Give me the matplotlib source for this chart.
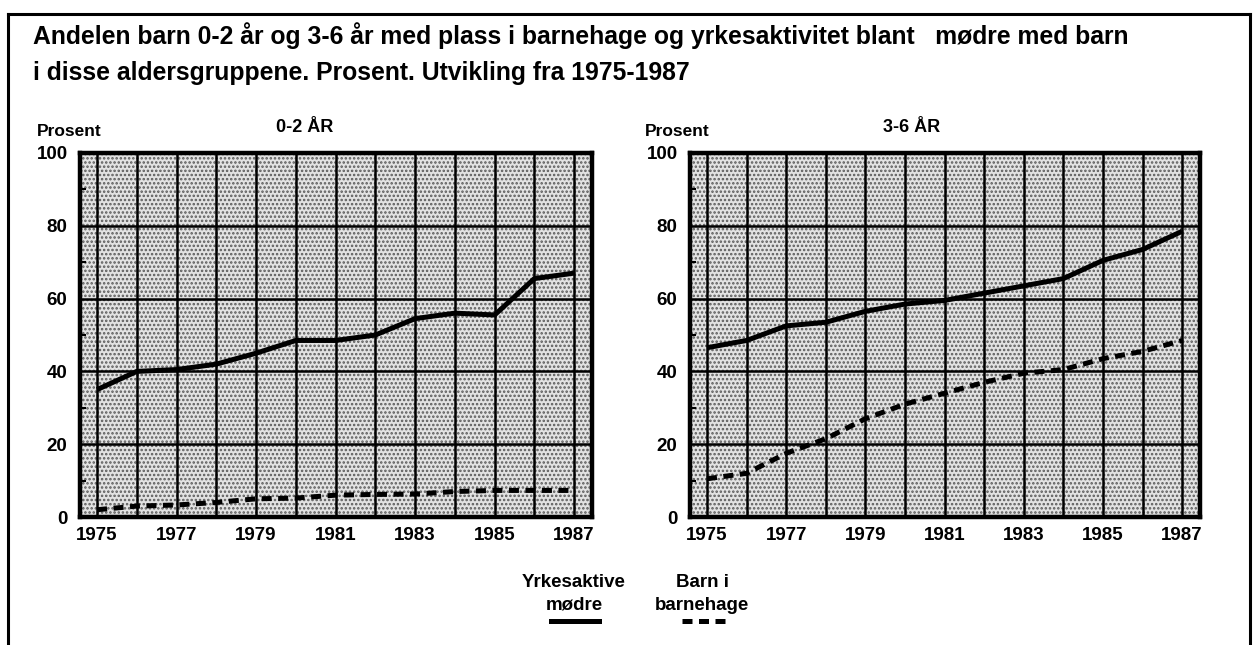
import matplotlib

matplotlib.use("Agg")
import matplotlib.pyplot as plt
from matplotlib.lines import Line2D

plt.rcParams["font.family"] = ["Liberation Sans", "DejaVu Sans"]
plt.rcParams["font.weight"] = "bold"
plt.rcParams["hatch.linewidth"] = 1.2

years = list(range(1975, 1988))
mothers_0_2 = [35, 40, 40.5, 42, 45, 48.5, 48.5, 50, 54.5, 56, 55.5, 65.5, 67]
kindergarten_0_2 = [2, 3, 3.3, 4, 5, 5.2, 6, 6.2, 6.3, 7, 7.3, 7.3, 7.3]
mothers_3_6 = [46.5, 48.5, 52.5, 53.5, 56.5, 58.5, 59.5, 61.5, 63.5, 65.5, 70.5, 73.5, 78.5]
kindergarten_3_6 = [10.5, 12, 17.5, 21.5, 27, 31, 34, 37, 39.5, 40.5, 43.5, 45.5, 48.5]
year_ticks = [1975, 1977, 1979, 1981, 1983, 1985, 1987]
pct_ticks = [0, 20, 40, 60, 80, 100]
panel_titles = ["0-2 ÅR", "3-6 ÅR"]
title_lines = ["Andelen barn 0-2 år og 3-6 år med plass i barnehage og yrkesaktivitet blant   mødre med barn",
               "i disse aldersgruppene. Prosent. Utvikling fra 1975-1987"]
legend_labels = ["Yrkesaktive\nmødre", "Barn i\nbarnehage"]

W, H = 1254, 645
fig = plt.figure(figsize=(W / 100, H / 100), dpi=100)


def fx(px):
    return px / W


def fy(py):
    return 1 - py / H


# outer frame
for xs, ys in [((8, 1250), (14, 14)), ((8, 8), (14, 645)), ((1250, 1250), (14, 645))]:
    fig.add_artist(Line2D([fx(x) for x in xs], [fy(y) for y in ys], color="black", lw=2.2))

fig.text(fx(33), fy(36), title_lines[0], ha="left", va="center", fontsize=17.8, fontweight="bold")
fig.text(fx(33), fy(73), title_lines[1], ha="left", va="center", fontsize=17.8, fontweight="bold")

panels = [
    (80, 592, mothers_0_2, kindergarten_0_2, 37, 305),
    (690, 1200, mothers_3_6, kindergarten_3_6, 645, 912),
]
for i, (x0, x1, solid, dashed, prosent_x, title_x) in enumerate(panels):
    ax = fig.add_axes([fx(x0), fy(517), fx(x1 - x0), (517 - 153) / H])
    ax.set_facecolor("white")
    ax.add_patch(plt.Rectangle((0, 0), 1, 1, transform=ax.transAxes, facecolor="#e2e2e2",
                               edgecolor="#5a5a5a", hatch="....", lw=0, zorder=0))
    ax.set_xlim(1974.57, 1987.45)
    ax.set_ylim(0, 100)
    for y in years:
        ax.axvline(y, color="black", lw=1.8, zorder=1)
    for p in pct_ticks[1:-1]:
        ax.axhline(p, color="black", lw=1.8, zorder=1)
    ax.plot(years, solid, color="black", lw=3.6, solid_capstyle="butt", zorder=3)
    ax.plot(years, dashed, color="black", lw=3.6, dashes=(2.0, 1.3), dash_capstyle="butt", zorder=3)
    ax.set_xticks(year_ticks)
    ax.set_yticks(pct_ticks)
    ax.set_yticks([10, 30, 50, 70, 90], minor=True)
    ax.tick_params(axis="both", which="major", length=0, labelsize=13.5)
    ax.tick_params(axis="y", which="major", pad=9)
    ax.tick_params(axis="x", which="major", pad=7)
    ax.tick_params(axis="y", which="minor", direction="in", length=4, width=1.5)
    for lab in ax.get_xticklabels() + ax.get_yticklabels():
        lab.set_fontweight("bold")
    for sp in ax.spines.values():
        sp.set_linewidth(3.2)
        sp.set_zorder(4)
    fig.text(fx(prosent_x), fy(131), "Prosent", ha="left", va="center", fontsize=12.5, fontweight="bold")
    fig.text(fx(title_x), fy(128), panel_titles[i], ha="center", va="center", fontsize=13, fontweight="bold")

# legend
fig.text(fx(574), fy(594), legend_labels[0], ha="center", va="center", fontsize=13.5,
         fontweight="bold", linespacing=1.45)
fig.text(fx(702), fy(594), legend_labels[1], ha="center", va="center", fontsize=13.5,
         fontweight="bold", linespacing=1.45)
fig.add_artist(Line2D([fx(551), fx(599)], [fy(621), fy(621)], color="black", lw=3.6))
fig.add_artist(Line2D([fx(682), fx(729)], [fy(621), fy(621)], color="black", lw=3.6,
                      dashes=(2.0, 1.3)))

fig.savefig("out.png", dpi=100)
